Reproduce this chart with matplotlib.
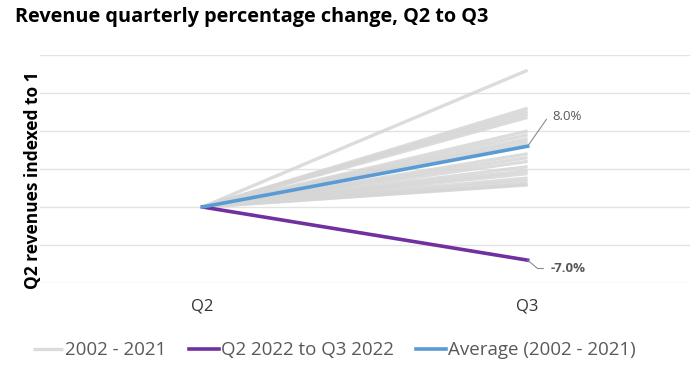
import numpy as np
import matplotlib.pyplot as plt

quarters = ['Q2', 'Q3']
# Q2 -> Q3 change in %, 2002 - 2021
hist_changes = [18.0, 13.0, 12.6, 12.2, 11.8, 10.0, 9.5, 9.0, 8.6, 8.2,
                7.0, 6.5, 6.0, 5.3, 4.8, 4.4, 3.8, 3.4, 3.0, 2.9]
change_2022 = -7.0
avg_change = 8.0
grid_levels = [0.90, 0.95, 1.00, 1.05, 1.10, 1.15, 1.20]

plt.rcParams['font.family'] = ['Open Sans', 'DejaVu Sans']

fig = plt.figure(figsize=(7, 3.67), dpi=100)
ax = fig.add_axes([0.057, 0.229, 0.929, 0.621])

x = np.arange(len(quarters))
grey = '#d6d6d6'
for i, c in enumerate(hist_changes):
    ax.plot(x, [1, 1 + c / 100], color=grey, lw=2.4, alpha=0.85, solid_capstyle='butt',
            label='2002 - 2021' if i == 0 else None, zorder=2)
ax.plot(x, [1, 1 + change_2022 / 100], color='#7030a0', lw=2.6, label='Q2 2022 to Q3 2022', zorder=3)
ax.plot(x, [1, 1 + avg_change / 100], color='#5b9bd5', lw=2.6, label='Average (2002 - 2021)', zorder=4)

for g in grid_levels:
    ax.axhline(g, color='#e3e3e3', lw=1, zorder=0)

# data labels with leader lines
y_avg = 1 + avg_change / 100
ax.annotate(f'{avg_change:.1f}%', xy=(1, y_avg), xytext=(1.077, y_avg + 0.039),
            fontsize=9.5, color='#595959', va='center',
            arrowprops=dict(arrowstyle='-', color='#8c8c8c', lw=0.8,
                            connectionstyle='angle,angleA=0,angleB=55,rad=0', shrinkA=3, shrinkB=0))
y_22 = 1 + change_2022 / 100
ax.annotate(f'{change_2022:.1f}%', xy=(1, y_22), xytext=(1.07, y_22 - 0.011),
            fontsize=9.5, color='#595959', fontweight='bold', va='center',
            arrowprops=dict(arrowstyle='-', color='#8c8c8c', lw=0.8,
                            connectionstyle='angle,angleA=0,angleB=-40,rad=0', shrinkA=3, shrinkB=0))

ax.set_xlim(-0.5, 1.5)
ax.set_ylim(0.90, 1.20)
ax.set_xticks(x)
ax.set_xticklabels(quarters, fontsize=12, color='#333333')
ax.set_yticks([])
ax.tick_params(axis='x', length=0, pad=11)
for s in ax.spines.values():
    s.set_visible(False)

ax.set_ylabel('Q2 revenues indexed to 1', fontsize=12.5, fontweight='bold')
ax.yaxis.set_label_coords(0.003, 0.45)
fig.text(0.021, 0.953, 'Revenue quarterly percentage change, Q2 to Q3', fontsize=14.3,
         fontweight='bold', va='center')

fig.legend(loc='center', bbox_to_anchor=(0.478, 0.046), ncol=3, frameon=False, fontsize=13.5,
           handlelength=1.6, handletextpad=0.1, columnspacing=1.2, labelcolor='#595959')

fig.savefig('out.png', dpi=100)
